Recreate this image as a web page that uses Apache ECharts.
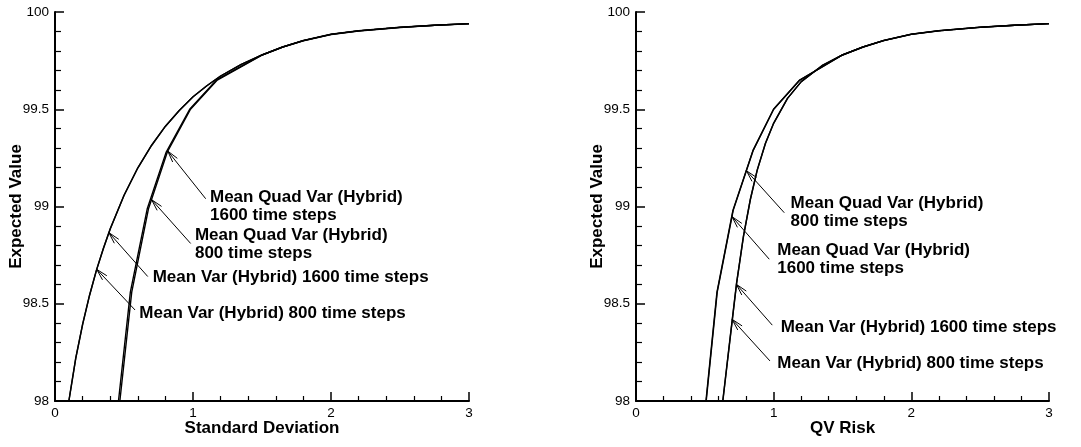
<!DOCTYPE html>
<html>
<head>
<meta charset="utf-8">
<script src="https://cdn.jsdelivr.net/npm/echarts@6/dist/echarts.min.js"></script>
<style>
html,body{margin:0;padding:0;background:#fff;}
#c{width:1081px;height:447px;}
</style>
</head>
<body>
<div id="c"></div>
<script>
// ---------- Data (x, Expected Value) ----------
// Left panel: Standard Deviation
const sdMeanVar800 = [[0.100,98.000],[0.150,98.220],[0.200,98.395],[0.250,98.544],[0.300,98.673],[0.350,98.784],[0.400,98.886],[0.500,99.058],[0.600,99.199],[0.700,99.315],[0.800,99.413],[0.900,99.494],[1.000,99.564],[1.100,99.621],[1.200,99.671],[1.350,99.731],[1.500,99.779],[1.650,99.820],[1.800,99.853],[2.000,99.885],[2.200,99.903],[2.500,99.921],[2.750,99.932],[3.000,99.940]];
const sdMeanVar1600 = [[0.101,98.000],[0.151,98.220],[0.201,98.395],[0.251,98.544],[0.301,98.673],[0.351,98.784],[0.401,98.886],[0.501,99.058],[0.601,99.199],[0.701,99.315],[0.801,99.413],[0.901,99.494],[1.001,99.564],[1.101,99.621],[1.200,99.671],[1.350,99.731],[1.500,99.779],[1.650,99.820],[1.800,99.853],[2.000,99.885],[2.200,99.903],[2.500,99.921],[2.750,99.932],[3.000,99.940]];
const sdQuadVar800 = [[0.470,98.000],[0.556,98.560],[0.678,98.990],[0.814,99.280],[0.982,99.500],[1.176,99.650],[1.500,99.778],[1.650,99.819],[1.800,99.852],[2.000,99.884],[2.200,99.902],[2.500,99.920],[2.750,99.931],[3.000,99.939]];
const sdQuadVar1600 = [[0.460,98.000],[0.546,98.560],[0.669,98.990],[0.806,99.280],[0.976,99.500],[1.172,99.652],[1.500,99.780],[1.650,99.821],[1.800,99.854],[2.000,99.886],[2.200,99.904],[2.500,99.922],[2.750,99.932],[3.000,99.940]];
// Right panel: QV Risk
const qvMeanVar800 = [[0.630,98.000],[0.680,98.304],[0.730,98.605],[0.780,98.846],[0.830,99.036],[0.880,99.187],[0.940,99.325],[1.000,99.429],[1.100,99.556],[1.200,99.642],[1.350,99.724],[1.500,99.779],[1.650,99.820],[1.800,99.853],[2.000,99.885],[2.200,99.903],[2.500,99.921],[2.750,99.932],[3.000,99.940]];
const qvMeanVar1600 = [[0.631,98.000],[0.681,98.304],[0.731,98.605],[0.781,98.846],[0.831,99.036],[0.881,99.187],[0.941,99.325],[1.001,99.429],[1.101,99.556],[1.201,99.642],[1.351,99.724],[1.500,99.779],[1.650,99.820],[1.800,99.853],[2.000,99.885],[2.200,99.903],[2.500,99.921],[2.750,99.932],[3.000,99.940]];
const qvQuadVar800 = [[0.510,98.000],[0.590,98.560],[0.706,98.980],[0.852,99.290],[1.000,99.500],[1.190,99.650],[1.500,99.780],[1.650,99.821],[1.800,99.854],[2.000,99.886],[2.200,99.904],[2.500,99.922],[2.750,99.932],[3.000,99.940]];
const qvQuadVar1600 = [[0.508,98.000],[0.588,98.560],[0.704,98.980],[0.851,99.290],[0.999,99.500],[1.189,99.650],[1.500,99.780],[1.650,99.821],[1.800,99.854],[2.000,99.886],[2.200,99.904],[2.500,99.922],[2.750,99.932],[3.000,99.940]];

// Annotations: [tipX, tipY, tailX, tailY, textX, textY]
const sdAnnoLabels = ['Mean Var (Hybrid) 800 time steps','Mean Var (Hybrid) 1600 time steps','Mean Quad Var (Hybrid)\n800 time steps','Mean Quad Var (Hybrid)\n1600 time steps'];
const sdAnno = [[0.302,98.677,0.580,98.468,0.611,98.451],[0.390,98.866,0.672,98.640,0.708,98.636],[0.700,99.035,0.983,98.810,1.014,98.806],[0.817,99.285,1.092,99.040,1.123,99.000]];
const qvAnnoLabels = ['Mean Quad Var (Hybrid)\n800 time steps','Mean Quad Var (Hybrid)\n1600 time steps','Mean Var (Hybrid) 1600 time steps','Mean Var (Hybrid) 800 time steps'];
const qvAnno = [[0.802,99.184,1.077,98.968,1.123,98.970],[0.697,98.948,0.968,98.729,1.026,98.729],[0.729,98.600,0.990,98.390,1.051,98.377],[0.698,98.420,0.973,98.206,1.026,98.194]];

const xTitles = ['Standard Deviation','QV Risk'];
const yTitle = 'Expected Value';

// ---------- Chart ----------
const FONT = '"Liberation Sans", Arial, Helvetica, sans-serif';
function xAxisCfg(i){
  return {
    type:'value', gridIndex:i, min:0, max:3, interval:1,
    name:xTitles[i], nameLocation:'middle', nameGap:19, nameMoveOverlap:false,
    nameTextStyle:{color:'#000', fontSize:17, fontWeight:'bold', fontFamily:FONT},
    axisLine:{show:true, onZero:false, lineStyle:{color:'#000', width:2}},
    axisTick:{show:true, inside:true, length:9, lineStyle:{color:'#000', width:1.5}},
    minorTick:{show:true, splitNumber:5, length:5, lineStyle:{color:'#000', width:1.2}},
    axisLabel:{color:'#000', fontSize:13.5, fontFamily:FONT, margin:5},
    splitLine:{show:false}
  };
}
function yAxisCfg(i){
  return {
    type:'value', gridIndex:i, min:98, max:100, interval:0.5,
    name:yTitle, nameLocation:'middle', nameGap:30, nameRotate:90, nameMoveOverlap:false,
    nameTextStyle:{color:'#000', fontSize:17, fontWeight:'bold', fontFamily:FONT},
    axisLine:{show:true, onZero:false, lineStyle:{color:'#000', width:2}},
    axisTick:{show:true, inside:true, length:9, lineStyle:{color:'#000', width:1.5}},
    minorTick:{show:true, splitNumber:5, length:6, lineStyle:{color:'#000', width:1.2}},
    axisLabel:{color:'#000', fontSize:13.5, fontFamily:FONT, margin:6},
    splitLine:{show:false}
  };
}
function lineSeries(data, i){
  return {type:'line', xAxisIndex:i, yAxisIndex:i, data:data, showSymbol:false, symbol:'none',
    smooth:false, lineStyle:{color:'#000', width:1.4}, silent:true, z:3};
}
function annoSeries(anno, labels, i){
  return {
    type:'custom', xAxisIndex:i, yAxisIndex:i, data:anno, silent:true, z:4,
    encode:{x:0, y:1},
    renderItem:function(params, api){
      const tip = api.coord([api.value(0), api.value(1)]);
      const tail = api.coord([api.value(2), api.value(3)]);
      const txt = api.coord([api.value(4), api.value(5)]);
      const ang = Math.atan2(tail[1]-tip[1], tail[0]-tip[0]);
      const L = 12, a = 0.25;
      const p1 = [tip[0]+L*Math.cos(ang+a), tip[1]+L*Math.sin(ang+a)];
      const p2 = [tip[0]+L*Math.cos(ang-a), tip[1]+L*Math.sin(ang-a)];
      return {type:'group', children:[
        {type:'line', shape:{x1:tail[0], y1:tail[1], x2:tip[0], y2:tip[1]}, style:{stroke:'#000', lineWidth:1}},
        {type:'polyline', shape:{points:[p1, tip, p2]}, style:{stroke:'#000', lineWidth:1, fill:null}},
        {type:'text', style:{text:labels[params.dataIndex], x:txt[0], y:txt[1], fill:'#000',
          fontSize:17, fontWeight:'bold', fontFamily:FONT, align:'left', verticalAlign:'middle', lineHeight:18}}
      ]};
    }
  };
}

const chart = echarts.init(document.getElementById('c'), null, {renderer:'canvas'});
chart.setOption({
  backgroundColor:'#fff',
  animation:false,
  grid:[
    {left:55, top:12, width:414, height:389, containLabel:false},
    {left:636, top:12, width:413, height:389, containLabel:false}
  ],
  xAxis:[xAxisCfg(0), xAxisCfg(1)],
  yAxis:[yAxisCfg(0), yAxisCfg(1)],
  series:[
    lineSeries(sdMeanVar800,0), lineSeries(sdMeanVar1600,0),
    lineSeries(sdQuadVar800,0), lineSeries(sdQuadVar1600,0),
    lineSeries(qvMeanVar800,1), lineSeries(qvMeanVar1600,1),
    lineSeries(qvQuadVar800,1), lineSeries(qvQuadVar1600,1),
    annoSeries(sdAnno, sdAnnoLabels, 0),
    annoSeries(qvAnno, qvAnnoLabels, 1)
  ]
});
</script>
</body>
</html>
